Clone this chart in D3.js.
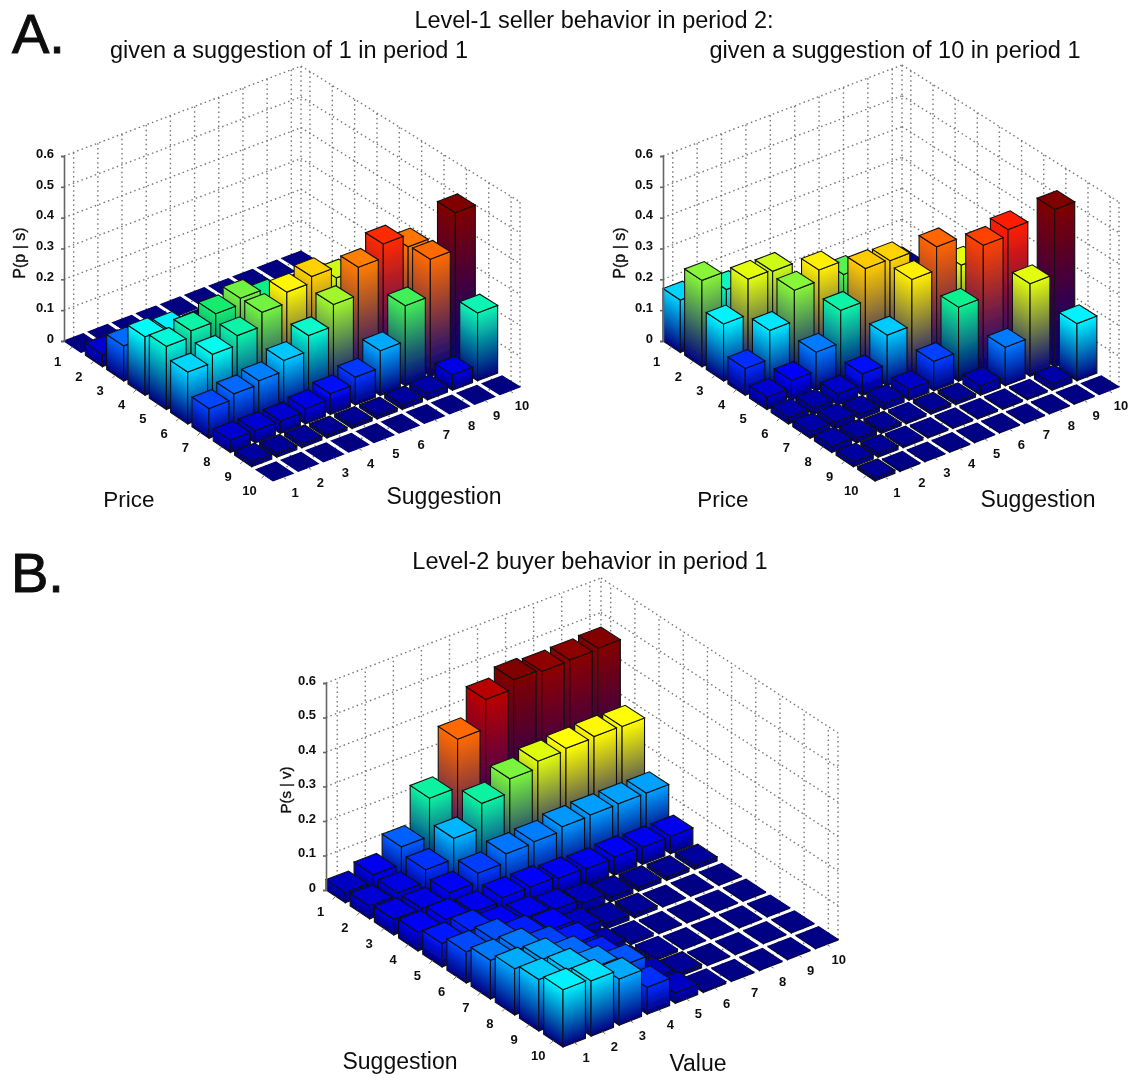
<!DOCTYPE html>
<html>
<head>
<meta charset="utf-8">
<script src="https://cdn.jsdelivr.net/npm/d3@7"></script>
<style>
  html, body { margin: 0; background: #fff; }
  text { font-family: "Liberation Sans", Arial, sans-serif; fill: #111; }
  .tick-label { font-size: 13px; font-weight: bold; }
  .axis text { font-size: 13px; font-weight: bold; font-family: "Liberation Sans", Arial, sans-serif; }
  .axis .domain, .axis line { stroke: #666; stroke-width: 1.6; }
  .panel { stroke: #111; stroke-width: 1; }
  .z-label { stroke: #111; stroke-width: 0.35; }
</style>
</head>
<body>
<svg id="chart" width="1133" height="1078"></svg>
<script>
const indexTicks = [1, 2, 3, 4, 5, 6, 7, 8, 9, 10];
const zTicks = [0, 0.1, 0.2, 0.3, 0.4, 0.5, 0.6];

// rows: first axis 1..10, columns: second axis 1..10
const sellerGiven1 = [
  [0, 0, 0, 0, 0, 0, 0, 0, 0, 0],
  [.04, .03, .02, .01, .01, .005, .005, .005, .005, .005],
  [.114, .1, .1, .06, .03, .02, .01, .01, .01, .01],
  [.19, .18, .14, .12, .08, .05, .03, .02, .01, .01],
  [.205, .225, .25, .27, .24, .2, .14, .08, .03, .01],
  [.168, .195, .225, .27, .305, .325, .29, .22, .17, .08],
  [.096, .113, .125, .16, .21, .28, .37, .415, .375, .2],
  [.04, .04, .04, .05, .067, .09, .145, .26, .38, .5],
  [.015, .012, .012, .01, .01, .01, .015, .02, .05, .22],
  [0, 0, 0, 0, 0, 0, 0, 0, 0, 0],
];
const sellerGiven10 = [
  [.17, .12, .08, .05, .04, .03, .02, .02, .01, .01],
  [.28, .22, .2, .18, .12, .1, .08, .06, .04, .02],
  [.185, .3, .295, .18, .15, .12, .1, .08, .06, .04],
  [.087, .18, .28, .315, .27, .2, .16, .12, .1, .06],
  [.04, .064, .125, .23, .335, .33, .22, .2, .15, .1],
  [.02, .02, .035, .07, .165, .315, .39, .3, .25, .15],
  [.02, .02, .015, .02, .035, .095, .24, .41, .43, .2],
  [.02, .015, .01, .008, .01, .01, .03, .125, .3, .51],
  [.015, .012, .008, .005, .005, .005, .005, .005, .02, .185],
  [.01, .003, .002, .002, .002, .002, .002, .002, .002, 0],
];
const buyerLevel2 = [
  [.03, .05, .1, .21, .35, .434, .46, .453, .455, .458],
  [.037, .044, .08, .14, .21, .25, .27, .276, .279, .277],
  [.045, .045, .06, .085, .11, .114, .126, .129, .13, .13],
  [.054, .059, .05, .06, .06, .054, .05, .053, .05, .05],
  [.068, .073, .054, .05, .04, .027, .015, .012, .01, .012],
  [.09, .093, .071, .06, .03, .015, .01, .002, .002, .002],
  [.112, .112, .087, .066, .02, .008, .003, .002, .002, .002],
  [.134, .13, .104, .072, .015, .008, .002, .002, .002, .002],
  [.149, .146, .122, .095, .025, .01, .002, .002, .002, .002],
  [.166, .16, .134, .078, .03, .006, .002, .002, .002, .002],
];

// jet-like map, the source figure's greens have less red than plain jet
const jetStops = [0, .125, .375, .5, .6, .875, 1];
const jetColors = ['#000080', '#0000ff', '#00ffff', '#14eb6e', '#ffff00', '#ff0000', '#800000'];

const charts = [
  { id: 'a1', values: sellerGiven1, zLabel: 'P(p | s)', zLabelAt: [21, 253], zLabelSize: 16,
    left: [64, 341], front: [273, 481], right: [520, 387], back: [301, 251], zHeight: 185 },
  { id: 'a2', values: sellerGiven10, zLabel: 'P(p | s)', zLabelAt: [621, 253], zLabelSize: 16,
    left: [663, 341], front: [875, 481], right: [1119, 387], back: [902, 250], zHeight: 185 },
  { id: 'b', values: buyerLevel2, zLabel: 'P(s | v)', zLabelAt: [287, 790], zLabelSize: 15,
    left: [326, 890], front: [563, 1047], right: [838, 940], back: [601, 785], zHeight: 207 },
];

const labels = [
  { text: 'Level-1 seller behavior in period 2:', x: 594, y: 28, size: 23.5 },
  { text: 'given a suggestion of 1 in period 1', x: 289, y: 58, size: 23.5 },
  { text: 'given a suggestion of 10 in period 1', x: 895, y: 58, size: 23.5 },
  { text: 'Level-2 buyer behavior in period 1', x: 590, y: 569, size: 23.5 },
  { text: 'Price', x: 129, y: 507, size: 22.5 },
  { text: 'Suggestion', x: 444, y: 504, size: 23 },
  { text: 'Price', x: 723, y: 507, size: 22.5 },
  { text: 'Suggestion', x: 1038, y: 507, size: 23 },
  { text: 'Suggestion', x: 400, y: 1069, size: 23 },
  { text: 'Value', x: 698, y: 1071, size: 23 },
];
const panelLetters = [
  { text: 'A.', x: 12, y: 53 },
  { text: 'B.', x: 11, y: 592 },
];

const svg = d3.select('#chart');
const defs = svg.append('defs');
defs.append('filter').attr('id', 'soft').append('feGaussianBlur').attr('stdDeviation', 0.7);
defs.append('filter').attr('id', 'softText').append('feGaussianBlur').attr('stdDeviation', 0.45);

const scaleU = d3.scaleLinear().domain([0.6, 10.4]).range([0, 1]);
const scaleV = d3.scaleLinear().domain([0.6, 10.4]).range([0, 1]);

function drawChart(cfg) {
  const scaleZ = d3.scaleLinear().domain([0, 0.6]).range([0, -cfg.zHeight]);
  const maxValue = d3.max(cfg.values.flat());
  const jet = d3.scaleLinear().domain(jetStops.map(d => d * maxValue)).range(jetColors);

  // floor is a bilinear patch between the four corners, z is straight up
  const project = (p, s, z) => {
    const u = scaleU(p), v = scaleV(s);
    const lerp = k =>
      (1 - u) * (1 - v) * cfg.left[k] + u * (1 - v) * cfg.front[k] +
      u * v * cfg.right[k] + (1 - u) * v * cfg.back[k];
    return [lerp(0), lerp(1) + scaleZ(z)];
  };

  const g = svg.append('g').attr('filter', 'url(#soft)');
  const segment = (a, b) => g.append('line')
    .attr('x1', a[0]).attr('y1', a[1]).attr('x2', b[0]).attr('y2', b[1])
    .attr('stroke', '#777').attr('stroke-width', 1.4).attr('stroke-dasharray', '1.5 3.2');

  // dotted walls and floor
  zTicks.forEach(z => {
    if (z > 0) {
      segment(project(.6, .6, z), project(.6, 10.4, z));
      segment(project(.6, 10.4, z), project(10.4, 10.4, z));
    }
  });
  indexTicks.forEach(i => {
    segment(project(.6, i, 0), project(.6, i, .6));
    segment(project(i, 10.4, 0), project(i, 10.4, .6));
    segment(project(.6, i, 0), project(10.4, i, 0));
    segment(project(i, .6, 0), project(i, 10.4, 0));
  });
  segment(project(.6, 10.4, 0), project(.6, 10.4, .6));
  segment(project(10.4, 10.4, 0), project(10.4, 10.4, .6));

  // side face fades from bar colour down to bottom colour, along the normal of its top edge
  const sideFace = (a, b, value, gid) => {
    const top = jet(value), ex = b[0] - a[0], ey = b[1] - a[1];
    const len = Math.hypot(ex, ey), nx = -ey / len, ny = ex / len;
    const drop = -scaleZ(value) * ny;
    const grad = defs.append('linearGradient').attr('id', gid)
      .attr('gradientUnits', 'userSpaceOnUse')
      .attr('x1', a[0]).attr('y1', a[1])
      .attr('x2', a[0] + nx * drop).attr('y2', a[1] + ny * drop);
    grad.append('stop').attr('offset', 0).attr('stop-color', top);
    grad.append('stop').attr('offset', 1).attr('stop-color', jetColors[0]);
    const bottom = pt => [pt[0], pt[1] - scaleZ(value)];
    g.append('polygon')
      .attr('points', [a, b, bottom(b), bottom(a)].join(' '))
      .attr('fill', `url(#${gid})`)
      .attr('stroke', '#111').attr('stroke-width', 1.1);
  };

  // painter's order, far rows first
  indexTicks.forEach((p, pi) => {
    indexTicks.slice().reverse().forEach(s => {
      const value = cfg.values[pi][s - 1];
      const c = 0.4;
      const a = project(p - c, s - c, value);
      const b = project(p + c, s - c, value);
      const r = project(p + c, s + c, value);
      const d = project(p - c, s + c, value);
      if (value > 0) {
        sideFace(a, b, value, `${cfg.id}-${p}-${s}-l`);
        sideFace(b, r, value, `${cfg.id}-${p}-${s}-r`);
      }
      g.append('polygon')
        .attr('points', [a, b, r, d].join(' '))
        .attr('fill', jet(value))
        .attr('stroke', value < 0.01 ? '#000070' : '#111').attr('stroke-width', 1.1);
    });
  });

  // edge ticks and their labels
  indexTicks.forEach(i => {
    const onPrice = project(i, .6, 0), onOther = project(10.4, i, 0);
    g.append('line').attr('x1', onPrice[0]).attr('y1', onPrice[1])
      .attr('x2', onPrice[0] - 3).attr('y2', onPrice[1] + 3)
      .attr('stroke', '#777');
    g.append('line').attr('x1', onOther[0]).attr('y1', onOther[1])
      .attr('x2', onOther[0] + 3).attr('y2', onOther[1] + 2)
      .attr('stroke', '#777');
    g.append('text').attr('class', 'tick-label').attr('text-anchor', 'middle')
      .attr('x', onPrice[0] - 15).attr('y', onPrice[1] + 19.5).text(i);
    g.append('text').attr('class', 'tick-label').attr('text-anchor', 'middle')
      .attr('x', onOther[0] + 12).attr('y', onOther[1] + 19.5).text(i);
  });

  const axis = d3.axisLeft(scaleZ).tickValues(zTicks).tickSize(3).tickPadding(7)
    .tickFormat(d => d === 0 ? '0' : d3.format('.1f')(d));
  const gAxis = g.append('g').attr('class', 'axis')
    .attr('transform', `translate(${cfg.left[0]},${cfg.left[1]})`)
    .call(axis);
  gAxis.selectAll('text').attr('dy', '0.1em');

  g.append('text')
    .attr('class', 'z-label')
    .attr('transform', `translate(${cfg.zLabelAt[0]},${cfg.zLabelAt[1]}) rotate(-90)`)
    .attr('text-anchor', 'middle').attr('dominant-baseline', 'middle')
    .attr('font-size', cfg.zLabelSize).text(cfg.zLabel);
}

charts.forEach(drawChart);

const textLayer = svg.append('g').attr('filter', 'url(#softText)');
textLayer.selectAll('text.title').data(labels).enter().append('text')
  .attr('class', 'title')
  .attr('text-anchor', 'middle')
  .attr('x', d => d.x).attr('y', d => d.y)
  .attr('font-size', d => d.size)
  .text(d => d.text);
textLayer.selectAll('text.panel').data(panelLetters).enter().append('text')
  .attr('class', 'panel')
  .attr('x', d => d.x).attr('y', d => d.y)
  .attr('font-size', 56)
  .text(d => d.text);
</script>
</body>
</html>
